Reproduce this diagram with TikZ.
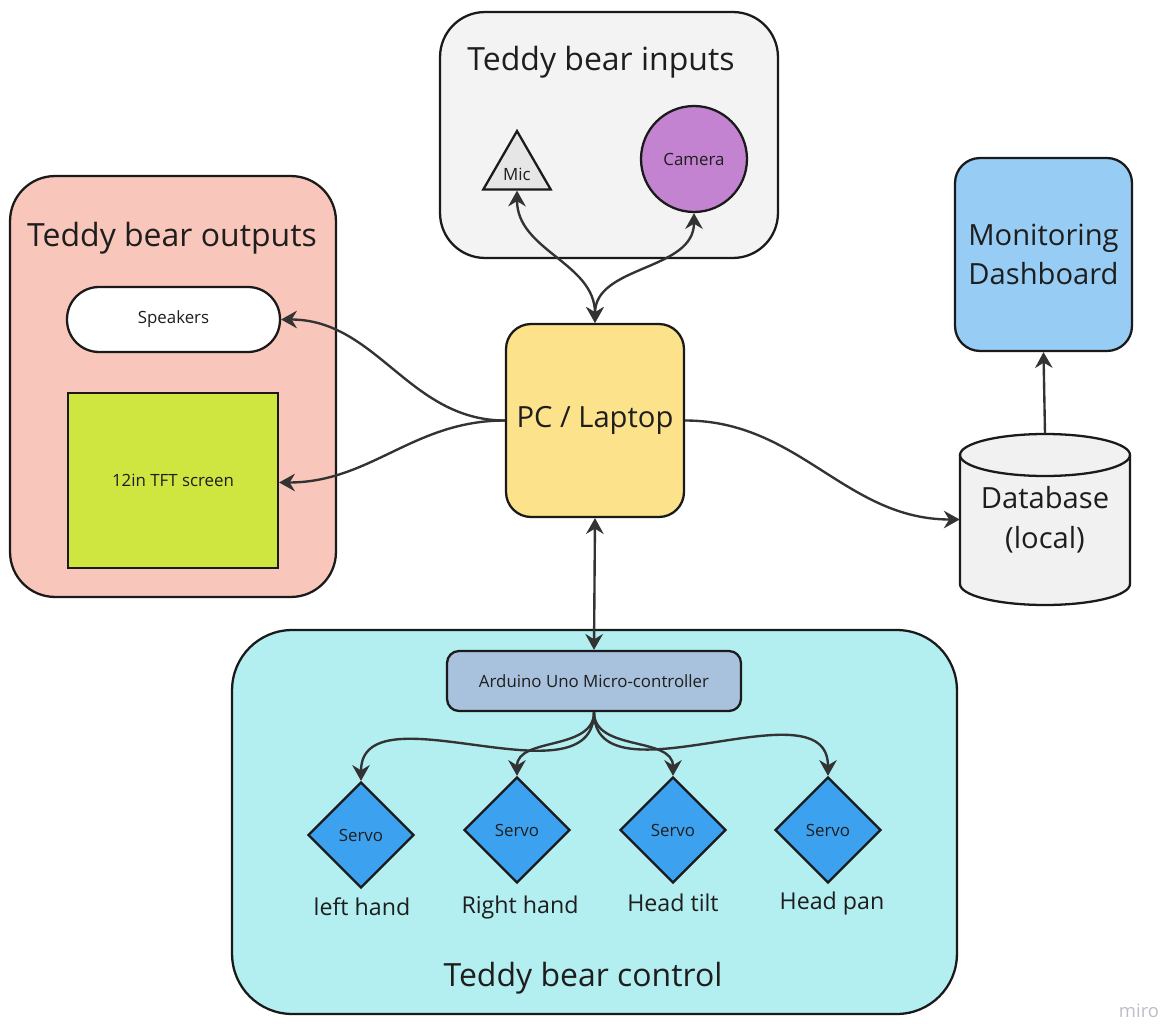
\documentclass[tikz,border=0pt]{standalone}
\usepackage{fontspec}
\setmainfont{Open Sans}
\usetikzlibrary{arrows.meta,shapes.geometric,positioning}
\definecolor{edge}{HTML}{1A1A1A}
\definecolor{wire}{HTML}{333333}
\definecolor{ink}{HTML}{1E1E1E}
\definecolor{inbg}{HTML}{F3F3F3}
\definecolor{outbg}{HTML}{F9C6BB}
\definecolor{ctrlbg}{HTML}{B3EEF0}
\definecolor{micgray}{HTML}{E6E6E6}
\definecolor{campurple}{HTML}{C383D1}
\definecolor{tftlime}{HTML}{D0E640}
\definecolor{pcyellow}{HTML}{FBE28B}
\definecolor{dashblue}{HTML}{97CDF4}
\definecolor{dbgray}{HTML}{F1F1F1}
\definecolor{ardblue}{HTML}{A8C1DC}
\definecolor{servoblue}{HTML}{3CA2EF}
\definecolor{wmgray}{HTML}{BDBDC9}
\newcommand{\bigfont}{\fontsize{18.2}{22}\selectfont}
\newcommand{\midfont}{\fontsize{16.6}{22.5}\selectfont}
\newcommand{\tagfont}{\fontsize{13.2}{16}\selectfont}
\newcommand{\smallfont}{\fontsize{9.6}{12}\selectfont}

\begin{document}
\begin{tikzpicture}[x=0.02cm,y=-0.02cm,
  group/.style={draw=edge, line width=1.3pt, rounded corners=0.9cm},
  box/.style={draw=edge, line width=1.3pt, align=center, text=ink, inner sep=0pt},
  heading/.style={text=ink, font=\bigfont, inner sep=0pt},
  servo/.style={box, diamond, aspect=1, minimum width=2.12cm, minimum height=2.12cm, fill=servoblue, font=\smallfont},
  servotag/.style={text=ink, font=\tagfont, inner sep=0pt},
  link/.style={draw=wire, line width=1.35pt, -{Stealth[length=9pt,width=10pt,inset=3pt]}},
  twoway/.style={link, {Stealth[length=9pt,width=10pt,inset=3pt]}-{Stealth[length=9pt,width=10pt,inset=3pt]}}]
\useasboundingbox (0,0) rectangle (1164,1024);

% groups
\node[group, fill=inbg, minimum width=6.76cm, minimum height=4.92cm] (inputs) at (609,135) {};
\node[heading] (inputsT) at (601,62) {Teddy bear inputs};
\node[group, fill=outbg, minimum width=6.52cm, minimum height=8.42cm] (outputs) at (173,386.5) {};
\node[heading] (outputsT) at (172,238) {Teddy bear outputs};
\node[group, fill=ctrlbg, rounded corners=1.2cm, minimum width=14.5cm, minimum height=7.68cm] (control) at (594.5,822) {};
\node[heading] (controlT) at (583,978) {Teddy bear control};

% inputs
\node[box, regular polygon, regular polygon sides=3, minimum size=1.46cm, fill=micgray, font=\smallfont] (mic) at (517,170) {\raisebox{-5.8pt}[0pt][0pt]{Mic}};
\node[box, circle, minimum size=2.12cm, fill=campurple, font=\smallfont] (cam) at (694,159) {Camera};

% outputs
\node[box, rounded corners=0.64cm, minimum width=4.26cm, minimum height=1.3cm, fill=white, font=\smallfont] (speak) at (173.5,319.5) {Speakers};
\node[box, minimum width=4.2cm, minimum height=3.5cm, fill=tftlime, font=\smallfont] (tft) at (173,480.5) {12in TFT screen};

% centre
\node[box, rounded corners=0.5cm, minimum width=3.56cm, minimum height=3.86cm, fill=pcyellow, font=\midfont] (pc) at (595,420.5) {PC / Laptop};
\node[box, rounded corners=0.5cm, minimum width=3.54cm, minimum height=3.86cm, fill=dashblue, font=\midfont] (dash) at (1043.5,254.5) {Monitoring\\Dashboard};

% database
\filldraw[draw=edge, fill=dbgray, line width=1.3pt] (960,455) -- (960,584) arc[start angle=180, end angle=360, x radius=1.7cm, y radius=0.42cm] -- (1130,455) arc[start angle=0, end angle=180, x radius=1.7cm, y radius=0.42cm] -- cycle;
\draw[draw=edge, line width=1.3pt] (960,455) arc[start angle=180, end angle=360, x radius=1.7cm, y radius=0.42cm];
\node[text=ink, inner sep=0pt, minimum width=3.4cm, minimum height=3.42cm, align=center, font=\midfont] (db) at (1045,519.5) {Database\\(local)};

% control
\node[box, rounded corners=0.24cm, minimum width=5.88cm, minimum height=1.2cm, fill=ardblue, font=\smallfont] (ard) at (594,681) {Arduino Uno Micro-controller};
\node[servo] (s1) at (361,835) {Servo};
\node[servo] (s2) at (517,830) {Servo};
\node[servo] (s3) at (673,830) {Servo};
\node[servo] (s4) at (828,830) {Servo};
\node[servotag] (t1) at (362,907) {left hand};
\node[servotag] (t2) at (520,907) {Right hand};
\node[servotag] (t3) at (673,903) {Head tilt};
\node[servotag] (t4) at (832,903) {Head pan};

% links
\draw[twoway] (mic.south) to[out=270,in=90] (pc.north);
\draw[twoway] (cam.south) to[out=270,in=90] (pc.north);
\draw[link] (pc.west) to[out=180,in=0] (speak.east);
\draw[link] (pc.west) to[out=180,in=0] ([yshift=-0.04cm]tft.east);
\draw[link] (pc.east) to[out=0,in=180] (db.west);
\draw[link] (db.north) -- (dash.south);
\draw[twoway] (pc.south) -- (ard.north);
\foreach \s in {s1,s2,s3,s4}
  \draw[link] (ard.south) to[out=270,in=90] (\s.north);

\node[text=wmgray, font=\fontsize{10.5}{12}\selectfont, inner sep=0pt] (brand) at (1139,1011) {miro};
\end{tikzpicture}
\end{document}
